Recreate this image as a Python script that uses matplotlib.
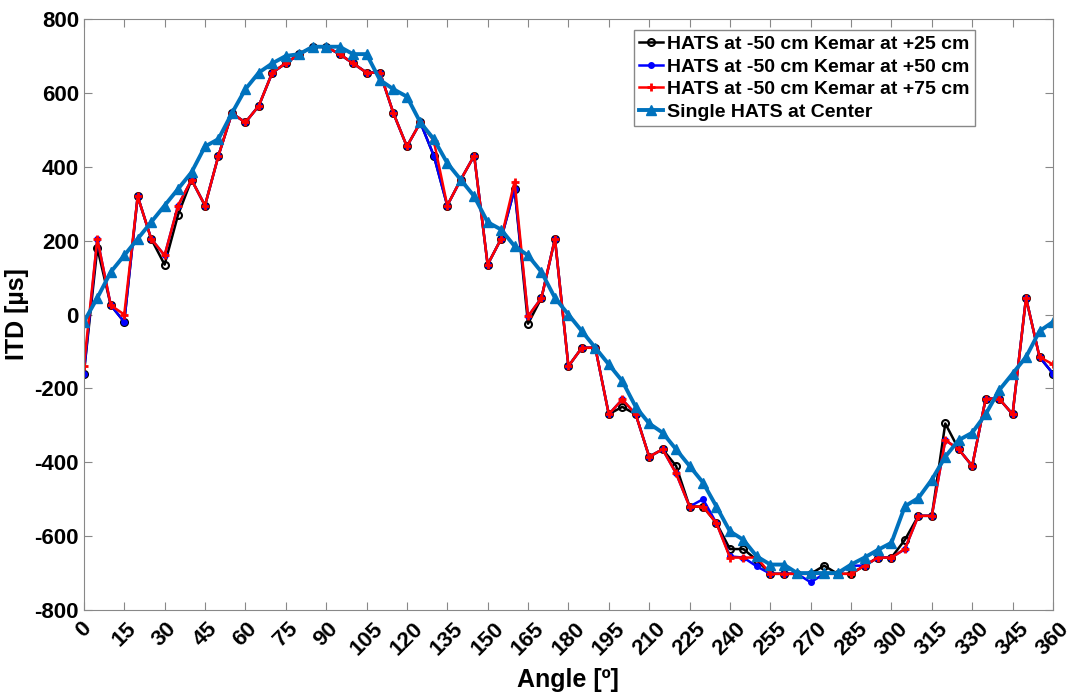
import matplotlib.pyplot as plt
import numpy as np

plt.rcParams['font.family'] = ['Liberation Sans', 'DejaVu Sans']
plt.rcParams['font.weight'] = 'bold'
plt.rcParams['axes.unicode_minus'] = False

# angles 0..360 every 5 degrees
angles = list(range(0, 365, 5))

kemar_25 = [-160, 180, 25, -20, 320, 205, 135, 270, 365, 295,
            430, 545, 520, 565, 655, 680, 705, 725, 725, 705,
            680, 655, 655, 545, 455, 520, 430, 295, 365, 430,
            135, 205, 340, -25, 45, 205, -140, -90, -90, -270,
            -250, -270, -385, -365, -410, -520, -520, -565, -635, -635,
            -665, -702, -702, -702, -702, -680, -702, -702, -680, -658,
            -658, -610, -545, -545, -295, -365, -410, -228, -228, -270,
            45, -115, -160]

kemar_50 = [-160, 205, 25, -20, 320, 205, 160, 295, 365, 295,
            430, 545, 520, 565, 655, 680, 705, 725, 725, 705,
            680, 655, 655, 545, 455, 520, 430, 295, 365, 430,
            135, 205, 340, -5, 45, 205, -140, -90, -90, -270,
            -230, -270, -385, -365, -430, -520, -500, -565, -655, -658,
            -682, -702, -702, -702, -725, -702, -702, -680, -680, -658,
            -658, -635, -545, -545, -340, -365, -410, -228, -228, -270,
            45, -115, -160]

kemar_75 = [-140, 205, 25, 0, 320, 205, 160, 295, 365, 295,
            430, 545, 520, 565, 655, 680, 705, 725, 725, 705,
            680, 655, 655, 545, 455, 520, 470, 295, 365, 430,
            135, 205, 360, -5, 45, 205, -140, -90, -90, -270,
            -230, -270, -385, -365, -430, -520, -520, -565, -658, -658,
            -658, -702, -702, -702, -702, -702, -702, -702, -680, -658,
            -658, -635, -545, -545, -340, -365, -410, -228, -228, -270,
            45, -115, -135]

single = [-20, 45, 115, 160, 205, 250, 295, 340, 385, 455,
          475, 545, 610, 655, 680, 700, 705, 725, 725, 725,
          705, 705, 635, 610, 590, 520, 475, 410, 365, 320,
          250, 230, 185, 160, 115, 45, 0, -45, -90, -135,
          -180, -250, -295, -320, -365, -410, -455, -520, -587, -610,
          -655, -677, -677, -700, -700, -700, -700, -677, -658, -637,
          -618, -519, -497, -447, -385, -340, -320, -270, -205, -160,
          -115, -45, -20]

fig = plt.figure(figsize=(10.75, 6.92), dpi=100)
ax = fig.add_axes([0.078, 0.1185, 0.9015, 0.854])

ax.plot(angles, kemar_25, '-o', color='black', lw=1.8, ms=5, mfc='none', mew=1.5,
        label='HATS at -50 cm Kemar at +25 cm')
ax.plot(angles, kemar_50, '-o', color='blue', lw=1.8, ms=4,
        label='HATS at -50 cm Kemar at +50 cm')
ax.plot(angles, kemar_75, '-+', color='red', lw=1.8, ms=6, mew=2,
        label='HATS at -50 cm Kemar at +75 cm')
ax.plot(angles, single, '-^', color='#0072BD', lw=2.8, ms=7,
        label='Single HATS at Center')

ax.set_xlim(0, 360)
ax.set_ylim(-800, 800)
ax.set_xticks(np.arange(0, 361, 15))
ax.set_yticks(np.arange(-800, 801, 200))
ax.tick_params(direction='in', top=True, right=True, labelsize=16, color='#888888', length=6)
ax.tick_params(axis='x', pad=6)
plt.setp(ax.get_xticklabels(), rotation=45)
for s in ax.spines.values():
    s.set_color('#888888')

ax.set_xlabel('Angle [º]', fontsize=18, fontweight='bold', labelpad=6)
ax.set_ylabel('ITD [µs]', fontsize=18, fontweight='bold')

leg = ax.legend(loc='upper right', bbox_to_anchor=(0.9195, 0.982), fontsize=14,
                handlelength=1.2, handletextpad=0.2, borderpad=0.3, labelspacing=0.25,
                fancybox=False, framealpha=1, edgecolor='#888888', borderaxespad=0)
leg.get_frame().set_linewidth(1.0)

plt.savefig('out.png', dpi=100)
